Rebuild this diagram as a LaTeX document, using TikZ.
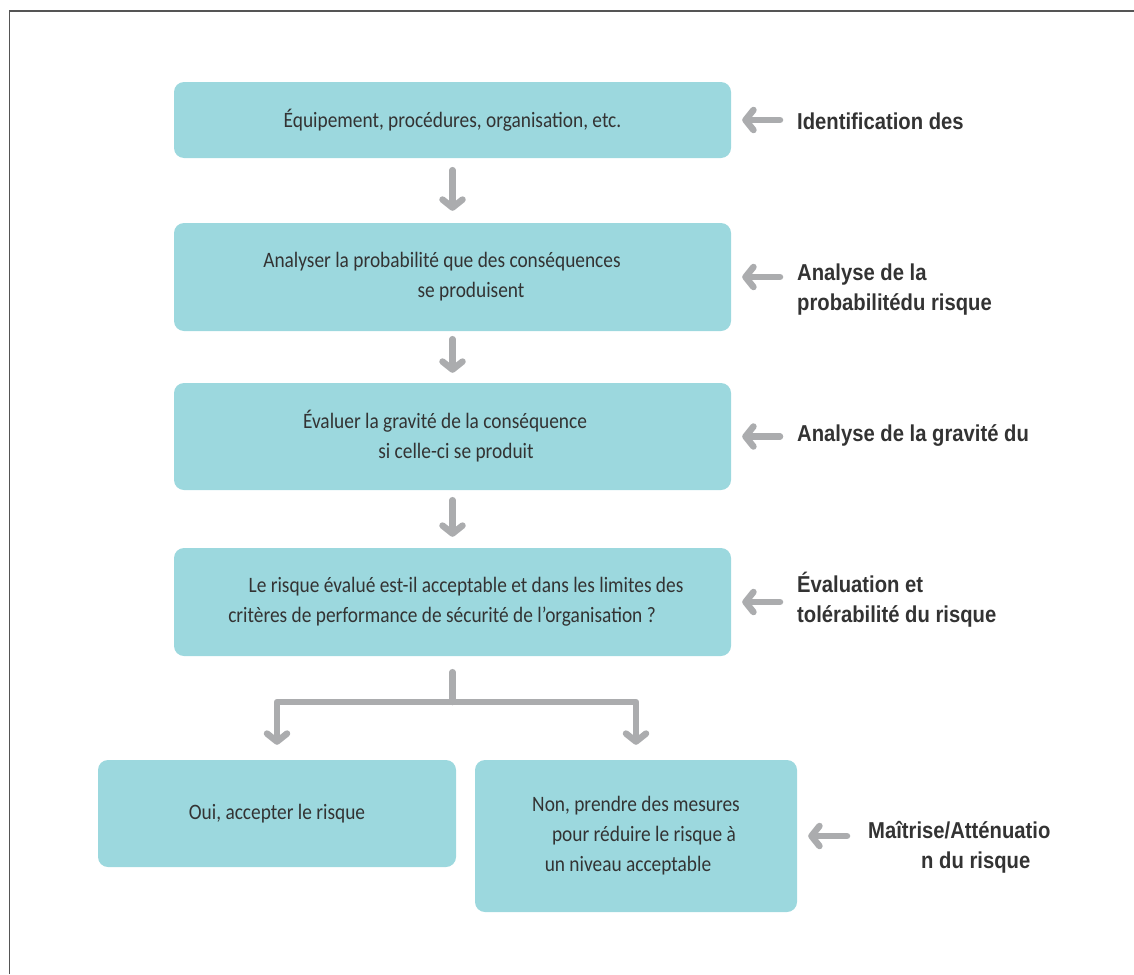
\documentclass[tikz,border=0pt]{standalone}
\usepackage{fontspec}
\setmainfont[FakeStretch=0.88]{Carlito}
\newfontfamily\labelfont[FakeStretch=0.88]{Liberation Sans}
\usetikzlibrary{arrows.meta,positioning,calc}
\definecolor{boxteal}{HTML}{9CD8DE}
\definecolor{arrowgray}{HTML}{ABACAE}
\definecolor{textgray}{HTML}{333333}
\definecolor{framegray}{HTML}{555555}

\tikzset{
  stepbox/.style={fill=boxteal, rounded corners=10pt, text=textgray, align=center,
    inner sep=0pt, font=\fontsize{22}{30}\selectfont},
  flowarrow/.style={draw=arrowgray, line width=6.5pt, line cap=round, line join=round,
    -{Straight Barb[length=8pt,width=20pt,line cap=round,line join=round]}},
  flowline/.style={draw=arrowgray, line width=6.5pt, line cap=round, line join=round},
  sidelabel/.style={anchor=west, align=left, text=textgray, inner sep=0pt,
    font=\labelfont\bfseries\fontsize{23}{30}\selectfont},
}
% shift a centred line right (R) or left (L)
\newcommand{\shR}[1]{\hspace*{#1}}
\newcommand{\shL}[1]{\hspace*{#1}}

\begin{document}
\begin{tikzpicture}[x=1pt,y=-1pt]
\useasboundingbox (0,0) rectangle (1134,974);
\draw[framegray, line width=1.5pt] (9.5,974) -- (9.5,11) -- (1134,11);

% the steps
\node[stepbox, minimum width=557pt, minimum height=76pt] (b1) at (452.5,120)
  {Équipement, procédures, organisation, etc.};
\node[stepbox, minimum width=557pt, minimum height=108pt] (b2) at (452.5,277)
  {Analyser la probabilité que des conséquences\shL{21pt}\\ \shR{37pt}se produisent};
\node[stepbox, minimum width=557pt, minimum height=107pt] (b3) at (452.5,436.5)
  {Évaluer la gravité de la conséquence\shL{15pt}\\ \shR{7pt}si celle-ci se produit};
\node[stepbox, minimum width=557pt, minimum height=108pt] (b4) at (452.5,602)
  {\shR{27pt}Le risque évalué est-il acceptable et dans les limites des\\ critères de performance de sécurité de l’organisation ?\shL{21pt}};
\node[stepbox, minimum width=358pt, minimum height=107pt] (b5) at (277,813.5)
  {Oui, accepter le risque};
\node[stepbox, minimum width=322pt, minimum height=152pt] (b6) at (636,836)
  {Non, prendre des mesures\\ \shR{16pt}pour réduire le risque à\\ un niveau acceptable\shL{16pt}};

% the labels on the right
\node[sidelabel] (l1) at (797,121) {Identification des};
\node[sidelabel] (l2) at (797,290) {Analyse de la\\ probabilitédu risque};
\node[sidelabel] (l3) at (797,435) {Analyse de la gravité du};
\node[sidelabel] (l4) at (797,600) {Évaluation et\\ tolérabilité du risque};
\node[sidelabel] (l5) at (868,847) {Maîtrise/Atténuatio\\ \hspace*{53pt}n du risque};

% arrows
\draw[flowarrow, shorten <=12pt, shorten >=12pt] (b1.south) -- (b2.north);
\draw[flowarrow, shorten <=8pt, shorten >=10pt] (b2.south) -- (b3.north);
\draw[flowarrow, shorten <=10pt, shorten >=11pt] (b3.south) -- (b4.north);
\coordinate (split) at (452.5,702);
\draw[flowline, shorten <=16pt] (b4.south) -- (split);
\draw[flowarrow, shorten >=15pt] (split) -| (b5.north);
\draw[flowarrow, shorten >=15pt] (split) -| (b6.north);

\foreach \b/\l in {b1/l1, b2/l2, b3/l3, b4/l4}
  \draw[flowarrow, shorten <=17pt, shorten >=11pt] (\b.east -| \l.west) -- (\b.east);
\draw[flowarrow, shorten <=21pt, shorten >=11pt] (b6.east -| l5.west) -- (b6.east);
\end{tikzpicture}
\end{document}
